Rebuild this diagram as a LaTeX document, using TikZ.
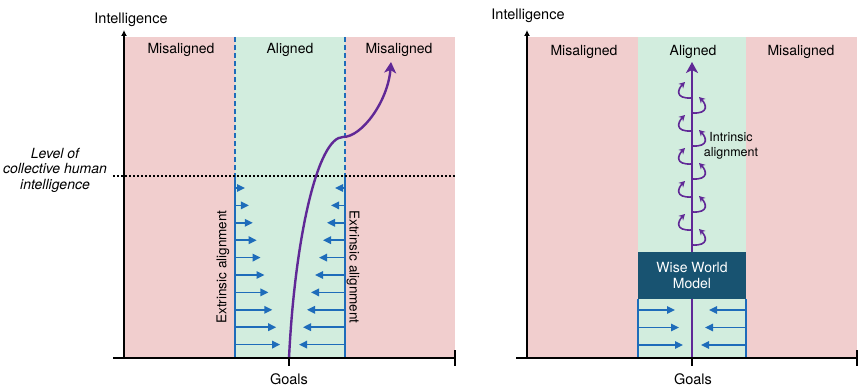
\documentclass[tikz,border=0pt]{standalone}
\usepackage{fontspec}
\setmainfont{TeX Gyre Heros}
\usepackage{xcolor}
\definecolor{misred}{RGB}{241,206,206}
\definecolor{aligngreen}{RGB}{210,237,222}
\definecolor{extblue}{RGB}{30,108,186}
\definecolor{trajpurple}{RGB}{96,40,150}
\definecolor{wwmblue}{RGB}{24,83,113}
\usetikzlibrary{arrows.meta}

\begin{document}
\begin{tikzpicture}[x=1pt, y=1pt,
    axis/.style={line width=1.6pt, black},
    axistip/.style={-{Latex[length=6pt, width=6pt]}},
    bound/.style={draw=extblue, line width=1.5pt},
    pusharrow/.style={extblue, line width=1.6pt, -{Triangle[length=8pt, width=7.5pt]}},
    traj/.style={trajpurple, line width=2.4pt, -{Stealth[length=11pt, width=12pt, inset=3pt]}},
    loopy/.style={trajpurple, line width=1.6pt, -{Stealth[length=6pt, width=6.5pt]}},
    lbl/.style={font=\fontsize{14}{16}\selectfont}]
\useasboundingbox (0,0) rectangle (861,386);

% left panel
\fill[misred] (124,28) rectangle (455,349);
\fill[aligngreen] (235,28) rectangle (345,349);
\draw[bound, dash pattern=on 5pt off 3pt] (235,349) -- (235,210);
\draw[bound, dash pattern=on 5pt off 3pt] (345,349) -- (345,210);
\draw[bound] (235,210) -- (235,28);
\draw[bound] (345,210) -- (345,28);
\draw[line width=1.6pt, dash pattern=on 1.6pt off 2.4pt] (113,210) -- (455,210);
\foreach \i in {0,...,9} {
    \draw[pusharrow] (235,198-17.4*\i) -- ++(10+3.9*\i,0);
    \draw[pusharrow] (345,198-17.4*\i) -- ++(-10-4*\i,0);
}
\node[lbl] (misL) at (181,336) {Misaligned};
\node[lbl] (alL) at (290,336) {Aligned};
\node[lbl] (misR) at (399,336) {Misaligned};
\node[lbl, rotate=90, font=\fontsize{13.5}{15.5}\selectfont] (extL) at (223,119) {Extrinsic alignment};
\node[lbl, rotate=-90, font=\fontsize{13.5}{15.5}\selectfont] (extR) at (353,119) {Extrinsic alignment};
\node[lbl, align=center, font=\fontsize{14}{15.5}\selectfont\itshape] (level) at (55,216) {Level of\\collective human\\intelligence};
\coordinate (goalA) at (289,28);
\coordinate (kink) at (343,249);
\coordinate (escape) at (391,324);
\draw[traj] (goalA) .. controls (295,150) and (318,249) .. (kink) .. controls (362,249) and (388,285) .. (escape);
\coordinate (oA) at (124,28);
\draw[axis, axistip] (oA) -- (124,356);
\draw[axis] (113,28) -- (455,28);
\draw[axis] (goalA) -- ++(0,-8);
\draw[axis] (455,36) -- (455,20);
\node[lbl, font=\fontsize{14.5}{16}\selectfont] (intA) at (131,366) {Intelligence};
\node[lbl, font=\fontsize{14.5}{16}\selectfont] (goalsA) at (289,7) {Goals};

% right panel
\fill[misred] (527,28) rectangle (857,349);
\fill[aligngreen] (638,28) rectangle (746,349);
\draw[bound] (638,87) -- (638,28);
\draw[bound] (746,87) -- (746,28);
\foreach \i in {0,1,2} {
    \draw[pusharrow] (638,76-17.5*\i) -- ++(37+4*\i,0);
    \draw[pusharrow] (746,76-17.5*\i) -- ++(-37-4*\i,0);
}
\coordinate (goalB) at (692,28);
\coordinate (topB) at (692,324);
\draw[traj] (goalB) -- (topB);
\foreach \k in {0,...,4} {
    \draw[loopy] (692,288-33*\k) .. controls (674,287-33*\k) and (678,297-33*\k) .. (685,304-33*\k);
    \draw[loopy] (692,273-33*\k) .. controls (710,272-33*\k) and (706,282-33*\k) .. (699,289-33*\k);
}
\node[fill=wwmblue, text=white, minimum width=108pt, minimum height=47pt, inner sep=0pt, align=center, font=\fontsize{14}{16}\selectfont] (wwm) at (692,110.5) {Wise World\\Model};
\node[align=center, font=\fontsize{12.5}{15}\selectfont] (intr) at (731,240) {Intrinsic\\alignment};
\node[lbl] (misL2) at (584,334) {Misaligned};
\node[lbl] (alB) at (693,334) {Aligned};
\node[lbl] (misR2) at (801,334) {Misaligned};
\coordinate (oB) at (527,28);
\draw[axis, axistip] (oB) -- (527,356);
\draw[axis] (516,28) -- (857,28);
\draw[axis] (goalB) -- ++(0,-8);
\draw[axis] (857,36) -- (857,20);
\node[lbl, font=\fontsize{14.5}{16}\selectfont] (intB) at (528,370) {Intelligence};
\node[lbl, font=\fontsize{14.5}{16}\selectfont] (goalsB) at (693,7) {Goals};
\end{tikzpicture}
\end{document}
